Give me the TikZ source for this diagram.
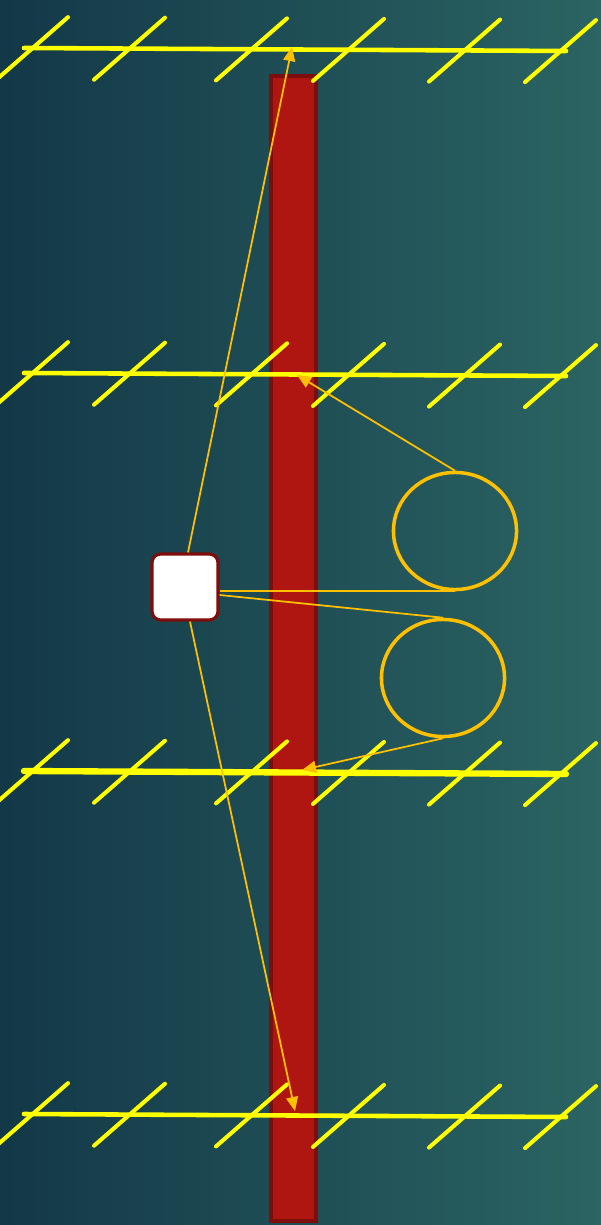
\documentclass[tikz,border=0pt]{standalone}
\usepackage{tikz}
\usetikzlibrary{positioning,calc,arrows.meta,shapes.geometric}
\definecolor{bgdark}{RGB}{19,56,72}
\definecolor{bglight}{RGB}{43,100,99}
\definecolor{mastred}{RGB}{175,22,18}
\definecolor{mastedge}{RGB}{125,14,12}
\definecolor{elemyellow}{RGB}{255,255,0}
\definecolor{feedorange}{RGB}{255,192,0}
\tikzset{
  boom/.style={elemyellow,line cap=round},
  element/.style={elemyellow,line width=1.15pt,line cap=round},
  txbox/.style={rectangle,rounded corners=2.5pt,draw=mastedge,fill=white,line width=0.9pt,minimum size=0.66cm},
  loopnode/.style={ellipse,draw=feedorange,line width=1pt,inner sep=0pt,minimum width=1.23cm,minimum height=1.17cm},
  wire/.style={feedorange,line width=0.5pt},
  feed/.style={wire,-{Triangle[length=4pt,width=3.4pt]}}
}

\begin{document}
\begin{tikzpicture}[x=0.01cm,y=-0.01cm]
  \useasboundingbox (0,0) rectangle (601,1225);
  \clip (0,0) rectangle (601,1225);
  \shade[left color=bgdark,right color=bglight] (0,0) rectangle (601,1225);
  % mast
  \draw[fill=mastred,draw=mastedge,line width=0.9pt] (271,76) rectangle (316,1221);
  % antennas
  \foreach \y/\w in {48/1.3,373/1.3,771/1.8,1114/1.3}{
    \draw[boom,line width=\w pt] (24,\y) -- (566,\y+3);
    \foreach \t in {32,129,251,348,464,560}
      \draw[element] (\t-35,\y+\t/180+31) -- (\t+36,\y+\t/180-31);
  }
  \node[txbox] (tx) at (185,587) {};
  \node[loopnode] (upper) at (455,531) {};
  \node[loopnode] (lower) at (443,678) {};
  \coordinate (d1) at (292,47);
  \coordinate (d2) at (297,375);
  \coordinate (d3) at (302,770);
  \coordinate (d4) at (295,1111);
  \draw[feed] ([xshift=0.03cm]tx.north) -- (d1);
  \draw[feed] ([xshift=0.05cm]tx.south) -- (d4);
  \draw[wire,line width=0.65pt] (tx.east |- upper.south) -- (upper.south);
  \draw[wire] ([yshift=-0.08cm]tx.east) -- (lower.north);
  \draw[feed] (upper.north) -- (d2);
  \draw[feed] (lower.south) -- (d3);
\end{tikzpicture}
\end{document}
